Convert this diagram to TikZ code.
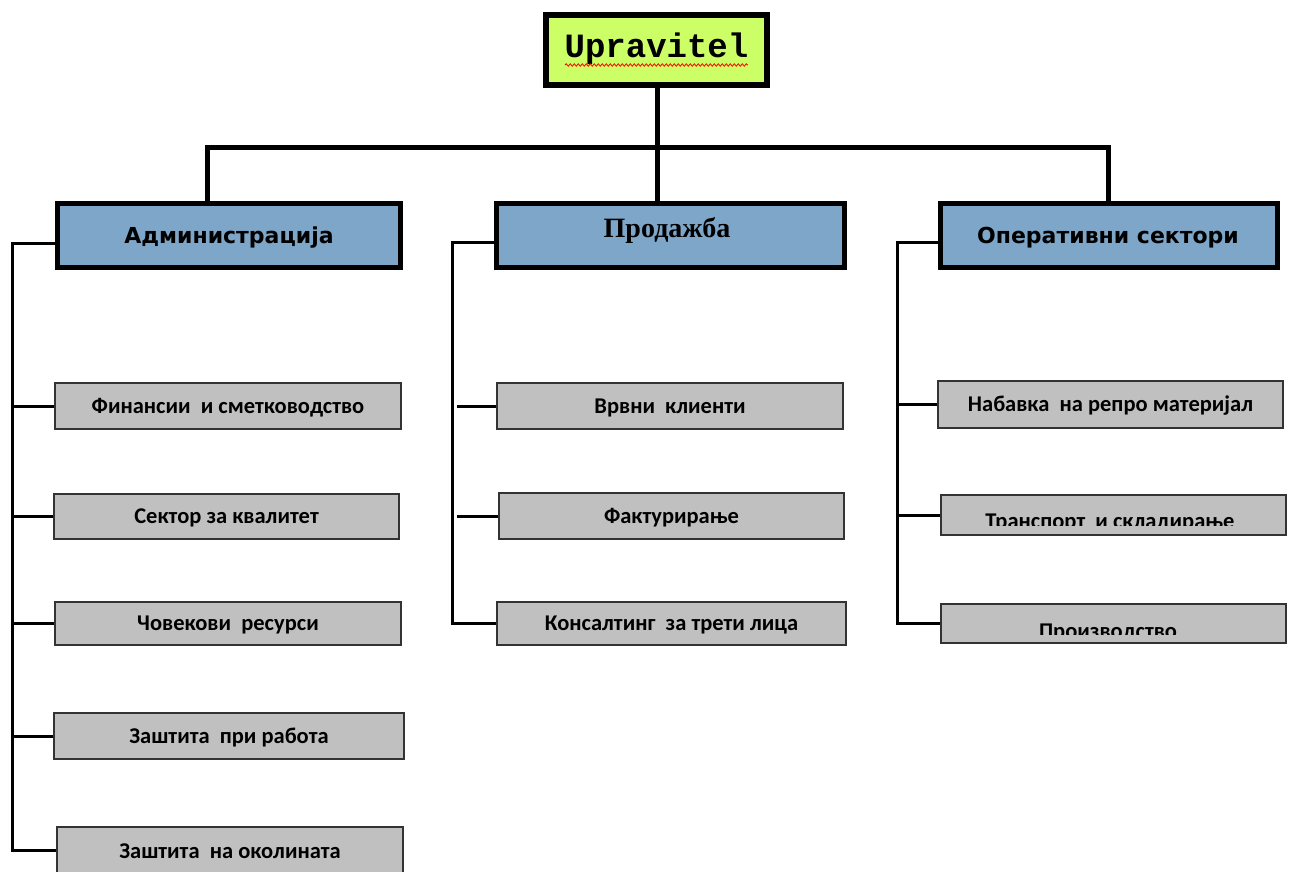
\documentclass[tikz,border=0pt]{standalone}
\usepackage{fontspec}
\usetikzlibrary{decorations.pathmorphing}
\newfontfamily\subf{Carlito}
\newfontfamily\headf{DejaVu Sans}
\newfontfamily\serf{Liberation Serif}
\newfontfamily\monof{Liberation Mono}
\definecolor{topgreen}{HTML}{CCFF66}
\definecolor{headblue}{HTML}{7EA6C8}
\definecolor{subgray}{HTML}{C0C0C0}
\tikzset{
  topbox/.style={draw=black, line width=6pt, fill=topgreen, minimum width=221pt, minimum height=70pt, inner sep=0pt},
  headbox/.style={draw=black, line width=5pt, fill=headblue, minimum height=64pt, inner sep=0pt},
  subbox/.style={draw=black!80, line width=1.6pt, fill=subgray, inner sep=0pt},
  subtext/.style={font=\subf\bfseries\fontsize{22.5}{26}\selectfont, inner sep=0pt},
  headtext/.style={font=\headf\bfseries\fontsize{22}{26}\selectfont, inner sep=0pt},
  bus/.style={line width=5pt},
  conn/.style={line width=3pt},
}
\begin{document}
\begin{tikzpicture}[x=1pt,y=-1pt]
\useasboundingbox[fill=white] (0,0) rectangle (1291,872);

% top
\node[topbox] (top) at (656.5,50) {};
\node[font=\monof\bfseries\fontsize{34}{38}\selectfont, inner sep=0pt] (toptext) at (656.5,49) {Upravitel};
\draw[red, line width=0.8pt, decorate, decoration={snake, segment length=4pt, amplitude=1.2pt}] (565,65) -- (748,65);

% headers
\node[headbox, minimum width=343pt] (admin) at (229,235.5) {};
\node[headtext] (admint) at (229,238) {Администрација};
\node[headbox, minimum width=348pt] (prod) at (670.5,235.5) {};
\node[font=\serf\bfseries\fontsize{28}{32}\selectfont, inner sep=0pt] (prodt) at (667,230) {Продажба};
\node[headbox, minimum width=337pt] (oper) at (1109,235.5) {};
\node[headtext] (opert) at (1108,238) {Оперативни сектори};

% bus
\coordinate (busM) at (657,148);
\coordinate (busL) at (207,148);
\coordinate (busR) at (1108,148);
\draw[bus] (top.south -| busM) -- (busM);
\draw[bus, line cap=rect] (busL) -- (busR);
\draw[bus] (busL) -- (busL |- admin.north);
\draw[bus] (busM) -- (busM |- prod.north);
\draw[bus] (busR) -- (busR |- oper.north);

% admin subs
\node[subbox, minimum width=346pt, minimum height=46pt] (a1) at (228,406) {};
\node[subtext] at ([yshift=-1.5pt]a1) {Финансии\ \ и сметководство};
\node[subbox, minimum width=345pt, minimum height=45pt] (a2) at (226.5,516.5) {};
\node[subtext] at ([yshift=-1.5pt]a2) {Сектор за квалитет};
\node[subbox, minimum width=346pt, minimum height=43pt] (a3) at (228,623.5) {};
\node[subtext] at ([yshift=-1.5pt]a3) {Човекови\ \ ресурси};
\node[subbox, minimum width=350pt, minimum height=46pt] (a4) at (229,736) {};
\node[subtext] at ([yshift=-1.5pt]a4) {Заштита\ \ при работа};
\node[subbox, minimum width=346pt, minimum height=46pt] (a5) at (230,850) {};
\node[subtext] at ([yshift=-1.5pt]a5) {Заштита\ \ на околината};

% prod subs
\node[subbox, minimum width=346pt, minimum height=46pt] (p1) at (670,406) {};
\node[subtext] at ([yshift=-1.5pt]p1) {Врвни\ \ клиенти};
\node[subbox, minimum width=345pt, minimum height=46pt] (p2) at (671.5,516) {};
\node[subtext] at ([yshift=-1.5pt]p2) {Фактурирање};
\node[subbox, minimum width=349pt, minimum height=43pt] (p3) at (671.5,623.5) {};
\node[subtext] at ([yshift=-1.5pt]p3) {Консалтинг\ \ за трети лица};

% oper subs
\node[subbox, minimum width=345pt, minimum height=47pt] (o1) at (1110.5,404.5) {};
\node[subtext] at ([yshift=-1.5pt]o1) {Набавка\ \ на репро материјал};
\node[subbox, minimum width=345pt, minimum height=40pt] (o2) at (1113.5,515) {};
\begin{scope}
\clip (940,496) rectangle (1287,525);
\node[subtext, anchor=base] (o2t) at (1110,528.5) {Транспорт\ \ и складирање};
\end{scope}
\node[subbox, minimum width=345pt, minimum height=39pt] (o3) at (1113.5,623.5) {};
\begin{scope}
\clip (940,605) rectangle (1287,634);
\node[subtext, anchor=base] (o3t) at (1108,638.5) {Производство};
\end{scope}

% admin trunk
\coordinate (aT) at (12,243);
\draw[conn] (admin.west |- aT) -- (aT) -- (aT |- a5.west) -- (a5.west);
\foreach \n in {a1,a2,a3,a4} \draw[conn] (\n.west -| aT) -- (\n.west);

% prod trunk
\coordinate (pT) at (452,242);
\coordinate (pB) at (457,242);
\draw[conn] (prod.west |- pT) -- (pT) -- (pT |- p3.west) -- (p3.west);
\foreach \n in {p1,p2} \draw[conn] (\n.west -| pB) -- (\n.west);

% oper trunk
\coordinate (oT) at (897,242);
\draw[conn] (oper.west |- oT) -- (oT) -- (oT |- o3.west) -- (o3.west);
\foreach \n in {o1,o2} \draw[conn] (\n.west -| oT) -- (\n.west);
\end{tikzpicture}
\end{document}
